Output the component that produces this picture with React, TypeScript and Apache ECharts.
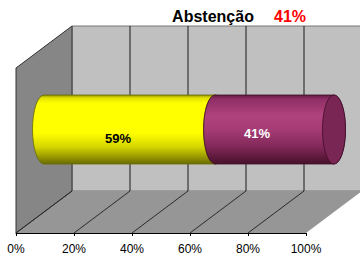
import React, { useEffect, useRef } from 'react';
import * as echarts from 'echarts';

// ---- data ----
const categories = ['Votos', 'Abstenção'];
const shares = [59, 41];
const xTicks = [0, 20, 40, 60, 80, 100];
const titleLabel = 'Abstenção';

// ---- style / geometry constants ----
const DX = 56;
const DY = -42;
const BAR_Y = 0.5;
const BAR_H = 0.418;
const RX = 11.5;
const FONT = '"Liberation Sans", Arial, sans-serif';
const segFill = [
  [
    [0, '#8f8f00'], [0.04, '#e0e000'], [0.12, '#ffff00'], [0.55, '#ffff00'],
    [0.75, '#d6d600'], [0.9, '#979700'], [1, '#6a6a00'],
  ],
  [
    [0, '#641c42'], [0.06, '#8f2e66'], [0.3, '#b0437d'], [0.5, '#a63c75'],
    [0.75, '#822859'], [0.92, '#5a1838'], [1, '#48122e'],
  ],
];
const segStroke = ['#6a6a00', '#3e0c26'];
const capFill = ['#d8d800', '#7a2654'];
const labelColor = ['#000000', '#ffffff'];
const labelShift = [[-11.5, 8.5], [-17.5, 3.5]];

export default function App() {
  const ref = useRef<HTMLDivElement>(null);
  useEffect(() => {
    if (!ref.current) return;
    const chart = echarts.init(ref.current, null, { renderer: 'svg' });

    let acc = 0;
    const barData = shares.map((v, i) => {
      const s = acc;
      acc += v;
      return [s, acc, i];
    });

    const option: any = {
      animation: false,
      grid: { left: 16, right: 54, top: 68, bottom: 24 },
      xAxis: {
        type: 'value',
        min: 0,
        max: 100,
        interval: 20,
        axisLine: { show: true, lineStyle: { color: '#000', width: 1 } },
        axisTick: { show: true, length: 3, lineStyle: { color: '#000' } },
        splitLine: { show: false },
        axisLabel: {
          formatter: '{value}%',
          color: '#000',
          fontSize: 12,
          fontFamily: FONT,
          margin: 10,
        },
      },
      yAxis: {
        type: 'value',
        min: 0,
        max: 1,
        show: false,
      },
      graphic: [
        {
          type: 'text',
          x: 213,
          y: 16,
          style: {
            text: titleLabel,
            fill: '#000',
            font: `bold 16px ${FONT}`,
            textAlign: 'center',
            textVerticalAlign: 'middle',
          },
        },
        {
          type: 'text',
          x: 290,
          y: 16,
          style: {
            text: `${shares[1]}%`,
            fill: '#ff0000',
            font: `bold 16px ${FONT}`,
            textAlign: 'center',
            textVerticalAlign: 'middle',
          },
        },
      ],
      series: [
        {
          type: 'custom',
          z: 1,
          silent: true,
          data: [[0, 0]],
          renderItem: (params: any, api: any) => {
            const f = (x: number, y: number) => api.coord([x, y]);
            const b = (x: number, y: number) => {
              const p = api.coord([x, y]);
              return [p[0] + DX, p[1] + DY];
            };
            const xmax = xTicks[xTicks.length - 1];
            const xmin = xTicks[0];
            const children: any[] = [];
            children.push({
              type: 'polygon',
              shape: { points: [b(xmin, 0), b(xmax, 0), b(xmax, 1), b(xmin, 1)] },
              style: { fill: '#c0c0c0', stroke: '#777', lineWidth: 1 },
            });
            children.push({
              type: 'polygon',
              shape: { points: [f(xmin, 0), f(xmax, 0), b(xmax, 0), b(xmin, 0)] },
              style: { fill: '#969696', stroke: null },
            });
            children.push({
              type: 'polygon',
              shape: { points: [f(xmin, 0), b(xmin, 0), b(xmin, 1), f(xmin, 1)] },
              style: { fill: '#868686', stroke: '#333', lineWidth: 1 },
            });
            xTicks.forEach((t) => {
              if (t < xmax) {
                if (t > xmin) {
                  children.push({
                    type: 'line',
                    shape: { x1: b(t, 0)[0], y1: b(t, 0)[1], x2: b(t, 1)[0], y2: b(t, 1)[1] },
                    style: { stroke: '#1a1a1a', lineWidth: 1 },
                  });
                }
                children.push({
                  type: 'line',
                  shape: { x1: f(t, 0)[0], y1: f(t, 0)[1], x2: b(t, 0)[0], y2: b(t, 0)[1] },
                  style: { stroke: '#2a2a2a', lineWidth: 1 },
                });
              }
            });
            return { type: 'group', children };
          },
        },
        {
          type: 'custom',
          z: 2,
          silent: true,
          name: categories.join(' / '),
          encode: { x: [0, 1] },
          data: barData,
          renderItem: (params: any, api: any) => {
            const s = api.value(0);
            const e = api.value(1);
            const i = api.value(2);
            const c0 = api.coord([s, BAR_Y]);
            const c1 = api.coord([e, BAR_Y]);
            const x0 = c0[0] + DX / 2;
            const x1 = c1[0] + DX / 2;
            const cy = c0[1] + DY / 2;
            const ry = api.size([0, BAR_H])[1] / 2;
            const top = cy - ry;
            const bot = cy + ry;
            const d =
              `M ${x0} ${top} L ${x1} ${top} A ${RX} ${ry} 0 0 1 ${x1} ${bot} ` +
              `L ${x0} ${bot} A ${RX} ${ry} 0 0 1 ${x0} ${top} Z`;
            const stops = segFill[i].map((st: any) => ({ offset: st[0], color: st[1] }));
            const v = e - s;
            return {
              type: 'group',
              children: [
                {
                  type: 'path',
                  shape: { pathData: d },
                  style: {
                    fill: new echarts.graphic.LinearGradient(0, 0, 0, 1, stops),
                    stroke: segStroke[i],
                    lineWidth: 0.8,
                  },
                },
                {
                  type: 'ellipse',
                  shape: { cx: x1, cy, rx: RX, ry },
                  style: { fill: capFill[i], stroke: segStroke[i], lineWidth: 0.8 },
                },
                {
                  type: 'text',
                  x: (x0 + x1) / 2 + labelShift[i][0],
                  y: cy + labelShift[i][1],
                  style: {
                    text: `${v}%`,
                    fill: labelColor[i],
                    font: `bold 13px ${FONT}`,
                    textAlign: 'center',
                    textVerticalAlign: 'middle',
                  },
                },
              ],
            };
          },
        },
      ],
    };
    chart.setOption(option);
    return () => chart.dispose();
  }, []);
  return (
    <div
      ref={ref}
      style={{ position: 'fixed', left: 0, top: 0, width: 360, height: 257, background: '#fff' }}
    />
  );
}
